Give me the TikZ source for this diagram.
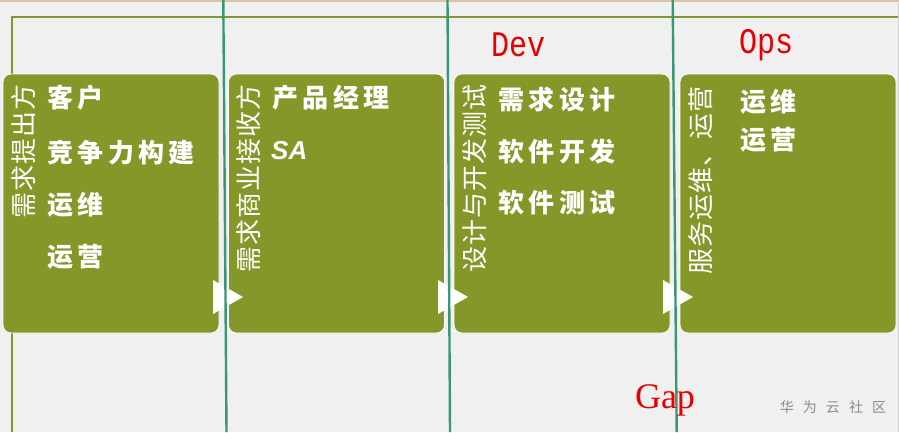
\documentclass[tikz,border=0pt]{standalone}
\usepackage{fontspec}
\newfontfamily\cjkb[LetterSpace=17]{Noto Sans CJK SC}
\newfontfamily\cjkv[LetterSpace=4]{Noto Sans CJK SC}
\newfontfamily\cjkw[LetterSpace=65]{Noto Sans CJK SC}
\newfontfamily\monof{Liberation Mono}
\newfontfamily\seriff{Liberation Serif}
\newfontfamily\sansf{Liberation Sans}
\definecolor{bgc}{RGB}{240,240,240}
\definecolor{tanc}{RGB}{216,196,170}
\definecolor{framec}{RGB}{128,152,50}
\definecolor{olivec}{RGB}{133,151,41}
\definecolor{tealc}{RGB}{58,150,118}
\definecolor{redc}{RGB}{230,0,0}
\definecolor{wmc}{RGB}{140,140,140}
\tikzset{
  box/.style={fill=olivec, draw=white, line width=0.8pt, rounded corners=8pt,
    minimum width=216pt, minimum height=259pt, inner sep=0pt},
  vlab/.style={text=white, rotate=90, anchor=east, inner sep=0pt,
    font=\cjkv\fontsize{26}{26}\selectfont},
  hlab/.style={text=white, anchor=west, inner sep=0pt,
    font=\cjkb\bfseries\fontsize{26}{26}\selectfont},
  tealline/.style={draw=tealc, line width=2.4pt},
  redlab/.style={text=redc, inner sep=0pt}
}
\begin{document}
\begin{tikzpicture}[x=1pt,y=-1pt]
\useasboundingbox (0,0) rectangle (899,432);
\fill[bgc] (0,0) rectangle (899,432);
\draw[tanc, line width=2pt] (0,1) -- (899,1);
\draw[framec, line width=1.6pt] (12,432) -- (12,17) -- (899,17);
\draw[gray!35, line width=0.8pt] (898,3) -- (898,432);
% boxes
\node[box] (b1) at (111,203.5) {};
\node[box] (b2) at (336.5,203.5) {};
\node[box] (b3) at (562,203.5) {};
\node[box] (b4) at (788,203.5) {};
% arrow triangles
\fill[white] (213,280) -- (243,297) -- (213,314) -- cycle;
\fill[white] (438,280) -- (468,297) -- (438,314) -- cycle;
\fill[white] (663,280) -- (693,297) -- (663,314) -- cycle;
% vertical labels
\node[vlab] (v1) at (24,84) {需求提出方};
\node[vlab] (v2) at (249,84) {需求商业接收方};
\node[vlab] (v3) at (475,84) {设计与开发测试};
\node[vlab] (v4) at (701,86) {服务运维、运营};
% horizontal labels
\node[hlab] (h11) at (47,98) {客户};
\node[hlab] (h12) at (47,153) {竞争力构建};
\node[hlab] (h13) at (47,205) {运维};
\node[hlab] (h14) at (47,257) {运营};
\node[hlab] (h21) at (272,98) {产品经理};
\node[text=white, anchor=west, inner sep=0pt, font=\sansf\bfseries\itshape\fontsize{26}{26}\selectfont] (h22) at (271,151) {SA};
\node[hlab] (h31) at (498,100) {需求设计};
\node[hlab] (h32) at (498,152) {软件开发};
\node[hlab] (h33) at (498,203) {软件测试};
\node[hlab] (h41) at (740,102) {运维};
\node[hlab] (h42) at (740,140) {运营};
% teal lines
\coordinate (l1t) at (223.3,0);
\coordinate (l1b) at (226.5,432);
\coordinate (l2t) at (447.5,0);
\coordinate (l2b) at (450,432);
\coordinate (l3t) at (672.7,0);
\coordinate (l3b) at (676.7,432);
\draw[tealline] (l1t) -- (l1b);
\draw[tealline] (l2t) -- (l2b);
\draw[tealline] (l3t) -- (l3b);
% red labels
\node[redlab, font=\monof\fontsize{30}{30}\selectfont, yscale=1.2, transform shape] (dev) at (518,45) {Dev};
\node[redlab, font=\monof\fontsize{30}{30}\selectfont, yscale=1.2, transform shape] (ops) at (766,45) {Ops};
\node[redlab, font=\seriff\fontsize{36}{36}\selectfont] (gap) at (665,400) {Gap};
\node[text=wmc, inner sep=0pt, font=\cjkw\fontsize{14}{14}\selectfont] (wm) at (833,407) {华为云社区};
\end{tikzpicture}
\end{document}
